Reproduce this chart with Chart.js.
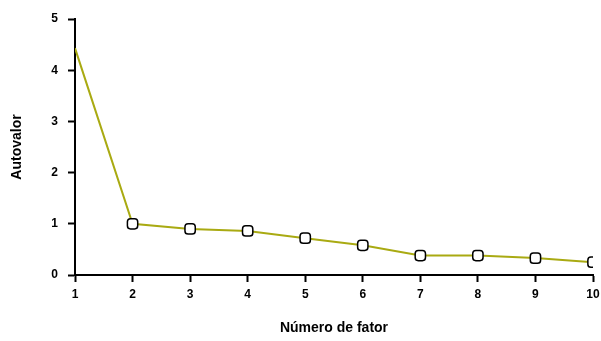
<!DOCTYPE html>
<html>
<head>
<meta charset="utf-8">
<script src="https://cdn.jsdelivr.net/npm/chart.js@4"></script>
<style>
  html, body { margin: 0; padding: 0; background: #fff; }
  #wrap { width: 601px; height: 341px; }
</style>
</head>
<body>
<div id="wrap"><canvas id="scree"></canvas></div>
<script>
var factors = [1, 2, 3, 4, 5, 6, 7, 8, 9, 10];
var eigenvalues = [4.43, 1.0, 0.9, 0.86, 0.72, 0.58, 0.38, 0.38, 0.33, 0.25];
var yTicks = [0, 1, 2, 3, 4, 5];

var points = factors.map(function (f, i) { return { x: f, y: eigenvalues[i] }; });
var radii = factors.map(function (f, i) { return i === 0 ? 0 : 6; });

var ctx = document.getElementById('scree').getContext('2d');
var chart = new Chart(ctx, {
    type: 'line',
    data: {
        datasets: [{
            data: points,
            borderColor: '#a9aa12',
            borderWidth: 2,
            backgroundColor: '#ffffff',
            pointBorderColor: '#000000',
            pointBorderWidth: 1.5,
            pointStyle: 'rectRounded',
            pointRadius: radii,
            tension: 0
        }]
    },
    options: {
        responsive: true,
        maintainAspectRatio: false,
        animation: false,
        layout: { padding: { top: 19, right: 8, left: 0, bottom: 0 } },
        plugins: { legend: { display: false }, tooltip: { enabled: false } },
        scales: {
            x: {
                type: 'linear',
                min: 1,
                max: 10,
                afterFit: function (s) { s.height = 66; s.paddingRight = 0; s.paddingLeft = 0; },
                afterBuildTicks: function (s) { s.ticks = factors.map(function (v) { return { value: v }; }); },
                border: { color: '#000', width: 2 },
                grid: { drawOnChartArea: false, tickLength: 7, tickColor: '#000', tickWidth: 2 },
                ticks: { color: '#000', padding: 5, font: { family: 'Liberation Sans', size: 12, weight: 'bold' } },
                title: { display: true, text: 'Número de fator', color: '#000', padding: { top: 12 }, font: { family: 'Liberation Sans', size: 14, weight: 'bold' } }
            },
            y: {
                min: 0,
                max: 5,
                afterFit: function (s) { s.width = 75; s.paddingTop = 0; s.paddingBottom = 0; },
                afterBuildTicks: function (s) { s.ticks = yTicks.map(function (v) { return { value: v }; }); },
                border: { color: '#000', width: 2 },
                grid: { drawOnChartArea: false, tickLength: 7, tickColor: '#000', tickWidth: 2 },
                ticks: { color: '#000', padding: 10, font: { family: 'Liberation Sans', size: 12, weight: 'bold' } },
                title: { display: true, text: 'Autovalor', color: '#000', padding: { top: 9, bottom: 6 }, font: { family: 'Liberation Sans', size: 14, weight: 'bold' } }
            }
        }
    }
});
</script>
</body>
</html>
